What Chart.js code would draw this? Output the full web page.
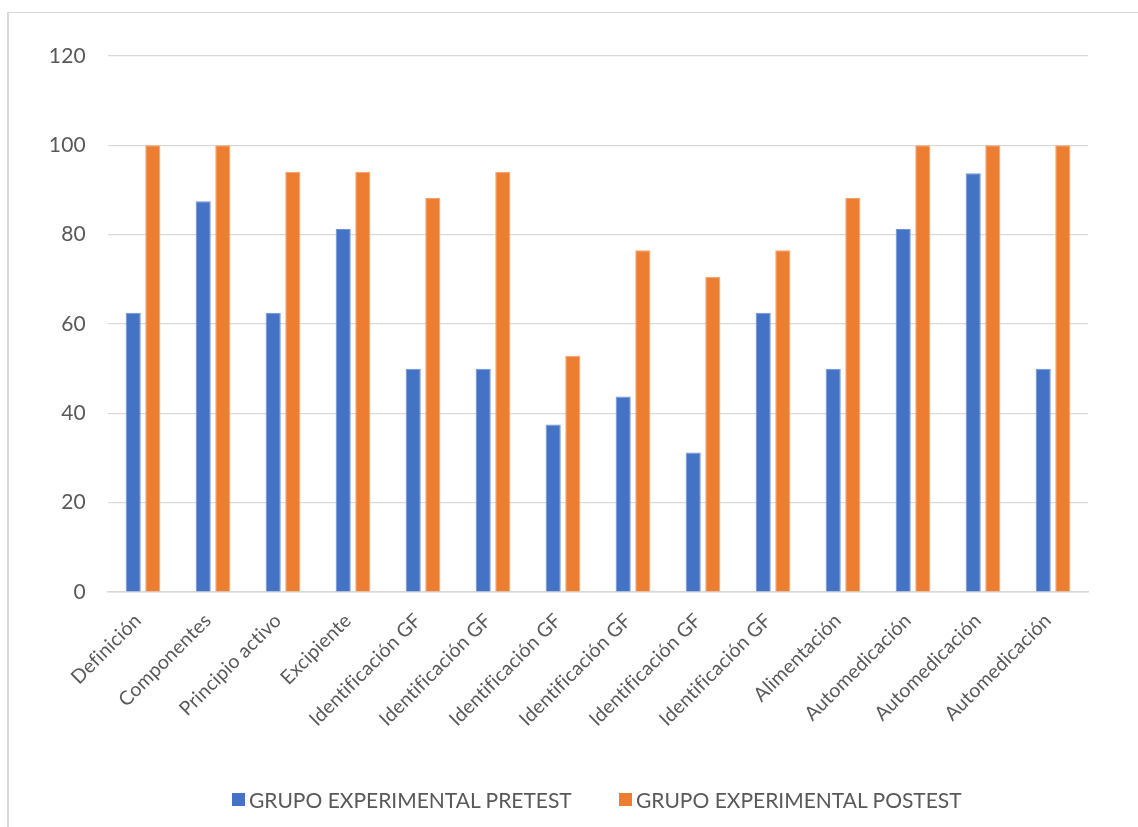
<!DOCTYPE html>
<html>
<head>
<meta charset="utf-8">
<script src="https://cdn.jsdelivr.net/npm/chart.js@4/dist/chart.umd.min.js"></script>
<style>
  html, body { margin: 0; padding: 0; background: #fff; }
  body { width: 1138px; height: 827px; position: relative; overflow: hidden; font-family: Lato, sans-serif; }
  #frame { position: absolute; left: 7px; top: 12px; width: 1300px; height: 1000px;
           border-left: 2px solid #d9d9d9; border-top: 1.5px solid #d9d9d9; }
  #wrap { position: absolute; left: 0; top: 0; width: 1138px; height: 827px; }
  .leg { position: absolute; top: 787px; display: flex; align-items: center; color: #595959;
         font-size: 21px; white-space: nowrap; font-variant-ligatures: none; }
  .leg i { display: inline-block; width: 13px; height: 13px; margin-right: 4px; }
</style>
</head>
<body>
<div id="frame"></div>
<div id="wrap"><canvas id="c" width="1138" height="827"></canvas></div>
<div id="legend"></div>
<script>
const categories = [
  'Definición', 'Componentes', 'Principio activo', 'Excipiente',
  'Identificación GF', 'Identificación GF', 'Identificación GF',
  'Identificación GF', 'Identificación GF', 'Identificación GF',
  'Alimentación', 'Automedicación', 'Automedicación', 'Automedicación'
];
const seriesNames = ['GRUPO EXPERIMENTAL PRETEST', 'GRUPO EXPERIMENTAL POSTEST'];
const pretest = [62.5, 87.5, 62.5, 81.25, 50, 50, 37.5, 43.75, 31.25, 62.5, 50, 81.25, 93.75, 50];
const postest = [100, 100, 94.1, 94.1, 88.2, 94.1, 52.9, 76.5, 70.6, 76.5, 88.2, 100, 100, 100];
const yTicks = [0, 20, 40, 60, 80, 100, 120];
const colors = ['#4472C4', '#ED7D31'];

const textColor = '#595959';
const gridColor = '#d9d9d9';

// a tiny letter spacing keeps "fi" as two separate glyphs on the canvas
const noLigatures = {
  id: 'noLigatures',
  beforeDraw(chart) { chart.ctx.letterSpacing = '0.2px'; }
};

new Chart(document.getElementById('c'), {
  type: 'bar',
  data: {
    labels: categories,
    datasets: [
      { label: seriesNames[0], data: pretest, backgroundColor: colors[0],
        borderColor: '#6f93d6', borderWidth: 1, categoryPercentage: 0.56, barPercentage: 0.77 },
      { label: seriesNames[1], data: postest, backgroundColor: colors[1],
        borderColor: '#f2a06c', borderWidth: 1, categoryPercentage: 0.56, barPercentage: 0.77 }
    ]
  },
  plugins: [noLigatures],
  options: {
    responsive: false,
    animation: false,
    layout: { padding: { left: 0, right: 50, top: 56, bottom: 0 } },
    plugins: {
      legend: { display: false },
      tooltip: { enabled: false }
    },
    scales: {
      x: {
        grid: { display: false, drawTicks: false },
        border: { display: true, color: gridColor, width: 1.5 },
        ticks: {
          color: textColor, font: { family: 'Lato', size: 19.5 },
          minRotation: 45, maxRotation: 45, padding: 17, labelOffset: -5, autoSkip: false
        },
        afterFit(scale) { scale.height = 235; }
      },
      y: {
        min: 0, max: 120,
        afterBuildTicks(scale) { scale.ticks = yTicks.map(v => ({ value: v })); },
        grid: { color: gridColor, lineWidth: 1.2, drawTicks: false },
        border: { display: false },
        ticks: { color: textColor, font: { family: 'Lato', size: 21 }, padding: 22 },
        afterFit(scale) { scale.width = 108; }
      }
    }
  }
});

// legend entries placed below the plot
const legendPos = [232, 619];
const legend = document.getElementById('legend');
seriesNames.forEach((name, i) => {
  const d = document.createElement('div');
  d.className = 'leg';
  d.style.left = legendPos[i] + 'px';
  const sw = document.createElement('i');
  sw.style.background = colors[i];
  d.appendChild(sw);
  d.appendChild(document.createTextNode(name));
  legend.appendChild(d);
});
</script>
</body>
</html>
